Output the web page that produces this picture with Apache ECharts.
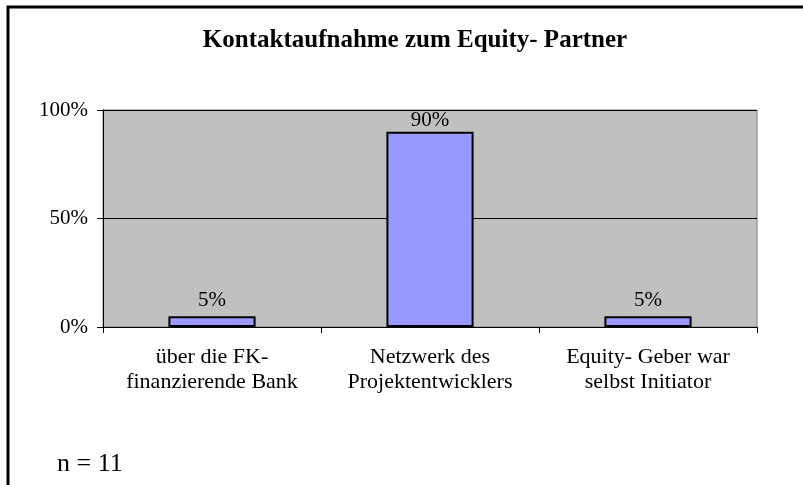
<!DOCTYPE html>
<html><head><meta charset="utf-8">
<script src="https://cdn.jsdelivr.net/npm/echarts@6/dist/echarts.min.js"></script>
<style>html,body{margin:0;padding:0;background:#fff}#c{width:803px;height:485px}</style>
</head><body><div id="c"></div>
<script>
const categories = ["über die FK-\nfinanzierende Bank", "Netzwerk des\nProjektentwicklers", "Equity- Geber war\nselbst Initiator"];
const values = [0.05, 0.90, 0.05];
const yTicks = [0, 0.5, 1];
const titleText = "Kontaktaufnahme zum Equity- Partner";
const noteText = "n = 11";

const serif = '"Liberation Serif", "Times New Roman", serif';
const chart = echarts.init(document.getElementById('c'), null, {renderer: 'canvas'});
chart.setOption({
  animation: false,
  backgroundColor: '#fff',
  grid: {
    left: 103, right: 46, top: 110, bottom: 158,
    show: true, backgroundColor: '#C0C0C0', borderColor: '#808080', borderWidth: 1
  },
  xAxis: {
    type: 'category', data: categories,
    axisLine: {lineStyle: {color: '#000', width: 1}},
    axisTick: {show: true, length: 6, inside: false, lineStyle: {color: '#000'}},
    axisLabel: {fontFamily: serif, fontSize: 22, color: '#000', lineHeight: 25, margin: 18, interval: 0}
  },
  yAxis: {
    type: 'value', min: yTicks[0], max: yTicks[yTicks.length - 1], interval: yTicks[1] - yTicks[0],
    axisLine: {show: true, lineStyle: {color: '#000', width: 1}},
    axisTick: {show: true, length: 6, lineStyle: {color: '#000'}},
    splitLine: {show: true, lineStyle: {color: '#000', width: 1}},
    axisLabel: {fontFamily: serif, fontSize: 21, color: '#000', margin: 15,
      formatter: v => Math.round(v * 100) + '%'}
  },
  series: [{
    type: 'bar', barWidth: '40%',
    data: values.map(v => ({value: v, label: {distance: v > 0.8 ? 1 : 5}})),
    itemStyle: {color: '#9999FF', borderColor: '#000', borderWidth: 2},
    label: {show: true, position: 'top', fontFamily: serif, fontSize: 21, color: '#000',
      formatter: p => Math.round(p.value * 100) + '%'}
  }],
  graphic: [
    {type: 'polyline', shape: {points: [[8, 485], [8, 7], [803, 7]]}, style: {stroke: '#000', lineWidth: 3, fill: null}},
    {type: 'text', x: 415, y: 41, style: {text: titleText, font: 'bold 25px ' + serif, fill: '#000', textAlign: 'center', textVerticalAlign: 'middle'}},
    {type: 'text', x: 57, y: 464, style: {text: noteText, font: '26px ' + serif, fill: '#000', textAlign: 'left', textVerticalAlign: 'middle'}}
  ]
});
</script></body></html>
